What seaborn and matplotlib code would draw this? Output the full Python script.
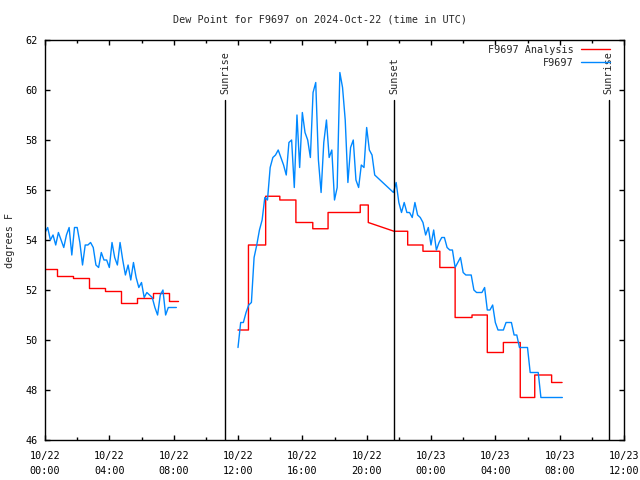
import pandas as pd
import seaborn as sns
import matplotlib.pyplot as plt
import matplotlib.dates as mdates

sns.set_style('ticks')
plt.rcParams['font.family'] = ['DejaVu Sans Mono']

# Datos (punto de rocio en grados F)
dia = pd.Timestamp('2024-10-22 00:00')

# F9697: lecturas cada 10 minutos
blue_manana = [54.3, 54.5, 54.0, 54.2, 53.8, 54.3, 54.0, 53.7, 54.2, 54.5,
               53.4, 54.5, 54.5, 53.9, 53.0, 53.8, 53.8, 53.9, 53.7, 53.0,
               52.9, 53.5, 53.2, 53.2, 52.9, 53.9, 53.3, 53.0, 53.9, 53.2,
               52.6, 53.0, 52.4, 53.1, 52.5, 52.1, 52.3, 51.7, 51.9, 51.8,
               51.7, 51.3, 51.0, 51.8, 52.0, 51.0, 51.3, 51.3, 51.3, 51.3]
blue_tarde = [49.7, 50.7, 50.7, 51.1, 51.4, 51.5, 53.3, 53.8, 54.4, 54.8,
              55.7, 55.6, 56.9, 57.3, 57.4, 57.6, 57.3, 57.0, 56.6, 57.9,
              58.0, 56.1, 59.0, 56.9, 59.1, 58.3, 58.0, 57.3, 59.9, 60.3,
              57.2, 55.9, 57.9, 58.8, 57.3, 57.6, 55.6, 56.1, 60.7, 60.1,
              58.8, 56.3, 57.7, 58.0, 56.4, 56.1, 57.0, 56.9, 58.5, 57.6,
              57.4, 56.6]
blue_noche = [55.9, 56.3, 55.5, 55.1, 55.5, 55.1, 55.1, 54.9, 55.5, 55.0,
              54.9, 54.7, 54.2, 54.5, 53.8, 54.4, 53.6, 53.9, 54.1, 54.1,
              53.7, 53.6, 53.6, 52.9, 53.1, 53.3, 52.7, 52.6, 52.6, 52.6,
              52.0, 51.9, 51.9, 51.9, 52.1, 51.2, 51.2, 51.4, 50.7, 50.4,
              50.4, 50.4, 50.7, 50.7, 50.7, 50.2, 50.2, 49.7, 49.7, 49.7,
              49.7, 48.7, 48.7, 48.7, 48.7, 47.7, 47.7, 47.7, 47.7, 47.7,
              47.7, 47.7, 47.7, 47.7]

# F9697 Analysis: escalones (horas desde 10/22 00:00)
red_h1 = [0.0, 0.75, 0.75, 1.75, 1.75, 2.75, 2.75, 3.75, 3.75, 4.75, 4.75,
          5.72, 5.72, 6.72, 6.72, 7.72, 7.72, 8.27]
red_v1 = [52.85, 52.85, 52.55, 52.55, 52.5, 52.5, 52.1, 52.1, 51.95, 51.95, 51.5,
          51.5, 51.7, 51.7, 51.9, 51.9, 51.55, 51.55]
red_h2 = [12.0, 12.65, 12.65, 13.72, 13.72, 14.6, 14.6, 15.6, 15.6, 16.65, 16.65,
          17.6, 17.6, 19.6, 19.6, 20.1, 20.1, 21.7, 22.55, 22.55, 23.5, 23.5,
          24.55, 24.55, 25.5, 25.5, 26.55, 26.55, 27.5, 27.5, 28.5, 28.5,
          29.55, 29.55, 30.45, 30.45, 31.5, 31.5, 32.15]
red_v2 = [50.4, 50.4, 53.8, 53.8, 55.75, 55.75, 55.6, 55.6, 54.7, 54.7, 54.45,
          54.45, 55.1, 55.1, 55.4, 55.4, 54.7, 54.35, 54.35, 53.8, 53.8, 53.55,
          53.55, 52.9, 52.9, 50.9, 50.9, 51.0, 51.0, 49.5, 49.5, 49.9,
          49.9, 47.7, 47.7, 48.6, 48.6, 48.3, 48.3]

# Salida y puesta del sol (horas)
sol_h = [11.2, 21.7, 35.05]
sol_txt = ['Sunrise', 'Sunset', 'Sunrise']

# armar la tabla para seaborn
t1 = pd.date_range('2024-10-22 00:00', periods=len(blue_manana), freq='10min')
t2 = pd.date_range('2024-10-22 12:00', periods=len(blue_tarde), freq='10min')
t3 = pd.date_range('2024-10-22 21:40', periods=len(blue_noche), freq='10min')

partes = [
    pd.DataFrame({'hora': dia + pd.to_timedelta(red_h1, unit='h'), 'valor': red_v1,
                  'serie': 'F9697 Analysis', 'tramo': 'r1'}),
    pd.DataFrame({'hora': dia + pd.to_timedelta(red_h2, unit='h'), 'valor': red_v2,
                  'serie': 'F9697 Analysis', 'tramo': 'r2'}),
    pd.DataFrame({'hora': t1, 'valor': blue_manana, 'serie': 'F9697', 'tramo': 'b1'}),
    pd.DataFrame({'hora': t2.append(t3), 'valor': blue_tarde + blue_noche,
                  'serie': 'F9697', 'tramo': 'b2'}),
]
datos = pd.concat(partes, ignore_index=True)

fig = plt.figure(figsize=(6.4, 4.8), dpi=100)
ax = fig.add_axes([45/640, 40/480, 579/640, 400/480])

sns.lineplot(data=datos, x='hora', y='valor', hue='serie', units='tramo',
             estimator=None, sort=False, hue_order=['F9697 Analysis', 'F9697'],
             palette={'F9697 Analysis': '#ff0000', 'F9697': '#0088ff'},
             linewidth=1.0, ax=ax)

fs = 7.3

# lineas verticales de sol
for h, txt in zip(sol_h, sol_txt):
    x = dia + pd.Timedelta(hours=h)
    ax.plot([x, x], [46, 59.6], color='black', linewidth=1.0)
    ax.text(x, 59.85, txt, rotation=90, ha='center', va='bottom', fontsize=fs)

ax.set_xlim(dia, dia + pd.Timedelta(hours=36))
ax.set_ylim(46, 62)
ax.set_yticks(range(46, 63, 2))
ax.xaxis.set_major_locator(mdates.HourLocator(byhour=[0, 4, 8, 12, 16, 20]))
ax.xaxis.set_minor_locator(mdates.HourLocator(interval=2))
ax.xaxis.set_major_formatter(mdates.DateFormatter('%m/%d\n%H:%M'))
ax.tick_params(which='both', direction='in', top=True, right=True, labelsize=fs, colors='black')
ax.tick_params(which='major', length=3.5, width=1)
ax.tick_params(which='minor', length=2.2, width=1)
ax.tick_params(axis='x', which='major', pad=8)
ax.tick_params(axis='y', which='major', pad=5)
for lab in ax.get_xticklabels():
    lab.set_linespacing(1.6)
for s in ax.spines.values():
    s.set_linewidth(1.0)
    s.set_color('black')

ax.set_xlabel('')
ax.set_ylabel('degrees F', fontsize=fs, labelpad=8)
fig.text(0.5, 1 - 19/480, 'Dew Point for F9697 on 2024-Oct-22 (time in UTC)',
         ha='center', va='center', fontsize=fs)

ax.legend(loc='upper right', bbox_to_anchor=((610 - 45) / 579, (440 - 45) / 400),
          frameon=False, markerfirst=False, fontsize=fs, borderpad=0, borderaxespad=0,
          handlelength=2.9, handletextpad=0.7, labelspacing=0.3)

fig.savefig('out.png', dpi=100)
